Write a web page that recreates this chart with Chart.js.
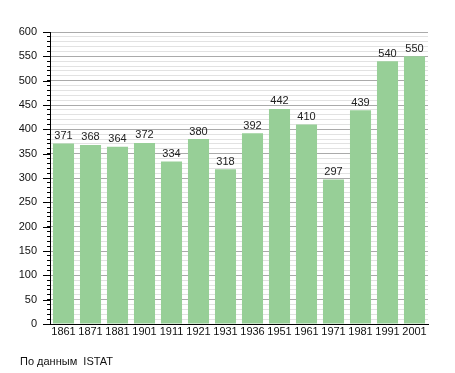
<!DOCTYPE html>
<html>
<head>
<meta charset="utf-8">
<script src="https://cdn.jsdelivr.net/npm/chart.js@4"></script>
<style>
    html, body { margin: 0; padding: 0; background: #fff; }
    #wrap { position: relative; width: 455px; height: 373px; }
    #source { position: absolute; left: 20px; top: 355px; font: 11px "Liberation Sans", Arial, sans-serif; color: #111; }
</style>
</head>
<body>
<div id="wrap">
    <canvas id="chart" width="455" height="373"></canvas>
    <div id="source">По данным&nbsp; ISTAT</div>
</div>
<script>
const years = ['1861', '1871', '1881', '1901', '1911', '1921', '1931', '1936', '1951', '1961', '1971', '1981', '1991', '2001'];
const population = [371, 368, 364, 372, 334, 380, 318, 392, 442, 410, 297, 439, 540, 550];
const yMax = 600;
const yMajorStep = 50;
const yMinorStep = 10;

const FONT = { family: '"Liberation Sans", Arial, sans-serif', size: 11 };

// Valeurs au-dessus des barres
const valueLabels = {
    id: 'valueLabels',
    afterDatasetsDraw(chart) {
        const { ctx } = chart;
        const meta = chart.getDatasetMeta(0);
        ctx.save();
        ctx.font = '11px "Liberation Sans", Arial, sans-serif';
        ctx.fillStyle = '#222';
        ctx.textAlign = 'center';
        ctx.textBaseline = 'bottom';
        meta.data.forEach((bar, i) => {
            ctx.fillText(population[i], bar.x, bar.y - 2);
        });
        ctx.restore();
    }
};

// Graduations principales plus longues
const majorTicks = {
    id: 'majorTicks',
    afterDraw(chart) {
        const { ctx, scales: { y } } = chart;
        ctx.save();
        ctx.strokeStyle = '#000';
        ctx.lineWidth = 1;
        for (let v = 0; v <= yMax; v += yMajorStep) {
            const py = Math.round(y.getPixelForValue(v)) + 0.5;
            ctx.beginPath();
            ctx.moveTo(y.right - 7, py);
            ctx.lineTo(y.right, py);
            ctx.stroke();
        }
        ctx.restore();
    }
};

new Chart(document.getElementById('chart'), {
    type: 'bar',
    data: {
        labels: years,
        datasets: [{
            data: population,
            backgroundColor: '#97cf97',
            borderWidth: 0,
            barPercentage: 0.78,
            categoryPercentage: 1
        }]
    },
    plugins: [valueLabels, majorTicks],
    options: {
        responsive: false,
        animation: false,
        layout: { padding: { top: 32, right: 27, bottom: 28, left: 0 } },
        plugins: { legend: { display: false }, tooltip: { enabled: false } },
        scales: {
            x: {
                grid: { display: false, drawTicks: false },
                border: { color: '#000', width: 1 },
                ticks: { font: FONT, color: '#111', padding: 1, maxRotation: 0, autoSkip: false },
                afterFit: s => { s.height = 21; }
            },
            y: {
                min: 0,
                max: yMax,
                border: { color: '#000', width: 1 },
                grid: {
                    color: c => c.tick.value % yMajorStep === 0 ? '#aaaaaa' : '#e2e2e2',
                    tickColor: '#000',
                    tickLength: 3
                },
                ticks: {
                    stepSize: yMinorStep,
                    autoSkip: false,
                    font: FONT,
                    color: '#111',
                    padding: 10,
                    callback: v => v % yMajorStep === 0 ? v : ''
                },
                afterFit: s => { s.width = 50; }
            }
        }
    }
});
</script>
</body>
</html>
